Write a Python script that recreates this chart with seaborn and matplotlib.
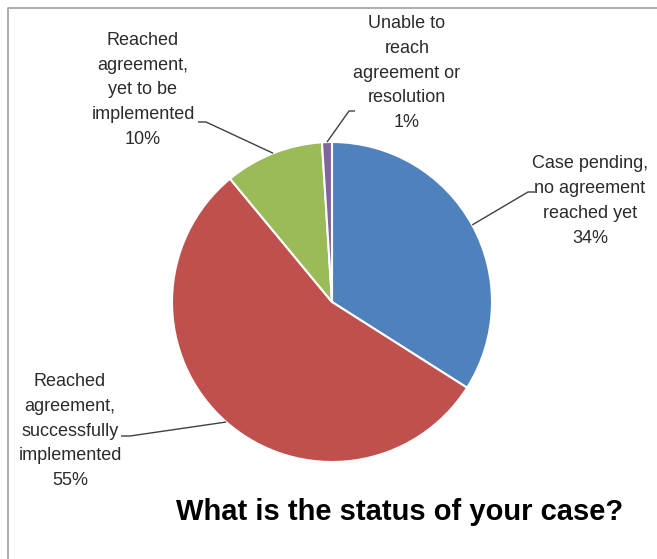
import numpy as np
import matplotlib
matplotlib.use("Agg")
import matplotlib.pyplot as plt
import seaborn as sns

# ---- data ----
categories = [
    "Case pending,\nno agreement\nreached yet",
    "Reached\nagreement,\nsuccessfully\nimplemented",
    "Reached\nagreement,\nyet to be\nimplemented",
    "Unable to\nreach\nagreement or\nresolution",
]
values = [34, 55, 10, 1]
colors = ["#4F81BD", "#C0504D", "#9BBB59", "#8064A2"]
title = "What is the status of your case?"

sns.set_theme(style="white")
plt.rcParams["font.family"] = ["Liberation Sans", "DejaVu Sans"]

W, H = 657, 559
fig = plt.figure(figsize=(W / 100, H / 100), dpi=100)
ax = fig.add_axes([0, 0, 1, 1])

def py(y):
    return H - y

cx, cy, r = 332, py(302), 160
wedges, _ = ax.pie(values, colors=colors, startangle=90, counterclock=False,
                   center=(cx, cy), radius=r,
                   wedgeprops=dict(edgecolor="white", linewidth=1.5))

ax.set_xlim(0, W)
ax.set_ylim(0, H)
ax.set_aspect("equal")
ax.axis("off")

# label layout: (text center x, text middle y, leader start, leader bend)
layout = [
    dict(x=590, y=201, p0=(535, 192), p1=(528, 192)),
    dict(x=70, y=431, p0=(121, 436), p1=(130, 436)),
    dict(x=143, y=90, p0=(198, 122), p1=(206, 122)),
    dict(x=407, y=73, p0=(355, 111), p1=(349, 111)),
]

for w, cat, v, lay in zip(wedges, categories, values, layout):
    mid = np.deg2rad((w.theta1 + w.theta2) / 2)
    ex, ey = cx + r * np.cos(mid), cy + r * np.sin(mid)
    ax.plot([lay["p0"][0], lay["p1"][0], ex],
            [py(lay["p0"][1]), py(lay["p1"][1]), ey],
            color="#404040", lw=1.0, solid_capstyle="butt")
    ax.text(lay["x"], py(lay["y"]), f"{cat}\n{v}%", ha="center", va="center",
            ma="center", fontsize=13, color="#2b2b2b", linespacing=1.6)

ax.text(400, py(512), title, ha="center", va="center", fontsize=21,
        fontweight="bold", color="black")

# frame
ax.plot([8, 8, W], [0, py(8), py(8)], color="#A6A6A6", lw=1.3, clip_on=False)

fig.savefig("out.png", dpi=100)
